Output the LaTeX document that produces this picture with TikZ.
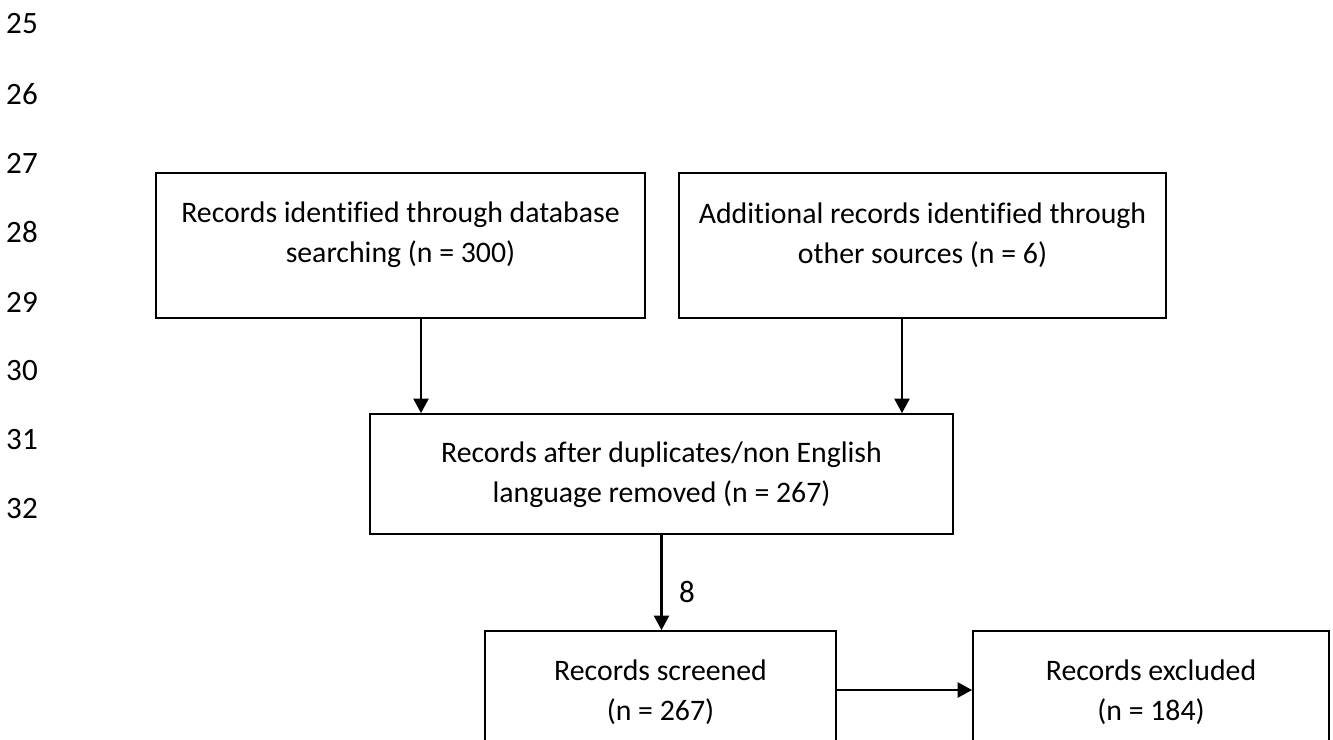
\documentclass[tikz,border=0pt]{standalone}
\usepackage{fontspec}
\setmainfont{Carlito}[Ligatures=NoCommon]
\usetikzlibrary{arrows.meta}
\def\u{0.3861pt}
\tikzset{
  flowbox/.style={draw=black, line width=0.7pt, inner sep=0pt, minimum width=#1*\u},
  boxtext/.style={align=center, inner sep=0pt, font=\fontsize{11.5pt}{15.45pt}\selectfont},
  linenum/.style={inner sep=0pt, font=\fontsize{12pt}{14pt}\selectfont},
  arr/.style={line width=0.95pt, -{Triangle[width=5.8pt,length=5.6pt]}}
}
\begin{document}
\begin{tikzpicture}[x=0.3861pt,y=-0.3861pt]
\useasboundingbox (0,0) rectangle (1333,739);
\clip (0,0) rectangle (1333,739);
% line numbers
\node[linenum] (n25) at (22,24) {25};
\node[linenum] (n26) at (22,94) {26};
\node[linenum] (n27) at (22,163) {27};
\node[linenum] (n28) at (22,232) {28};
\node[linenum] (n29) at (22,302) {29};
\node[linenum] (n30) at (22,371) {30};
\node[linenum] (n31) at (22,440) {31};
\node[linenum] (n32) at (22,509) {32};
% boxes
\node[flowbox=489, minimum height=145*\u] (b1) at (400.5,245.5) {};
\node[flowbox=487, minimum height=145*\u] (b2) at (922.5,245.5) {};
\node[flowbox=583, minimum height=120*\u] (b3) at (661.5,474) {};
\node[flowbox=351, minimum height=149*\u] (b4) at (660.5,705.5) {};
\node[flowbox=356, minimum height=149*\u] (b5) at (1151,705.5) {};
% texts
\node[boxtext] (t1) at (400.5,235) {Records identified through database\\searching (n = 300)};
\node[boxtext] (t2) at (922.5,235) {Additional records identified through\\other sources (n = 6)};
\node[boxtext] (t3) at (661.5,475) {Records after duplicates/non English\\language removed (n = 267)};
\node[boxtext] (t4) at (660.5,692) {Records screened\\(n = 267)};
\node[boxtext] (t5) at (1151,692) {Records excluded\\(n = 184)};
% connectors
\coordinate (a1) at (421,0);
\coordinate (a2) at (902,0);
\coordinate (hy) at (0,690);
\draw[arr] (b1.south -| a1) -- (b3.north -| a1);
\draw[arr] (b2.south -| a2) -- (b3.north -| a2);
\draw[arr] (b3.south) -- (b3.south |- b4.north);
\draw[arr] (b4.east |- hy) -- (b5.west |- hy);
\node[linenum] (l8) at (687,592) {8};
\end{tikzpicture}
\end{document}
